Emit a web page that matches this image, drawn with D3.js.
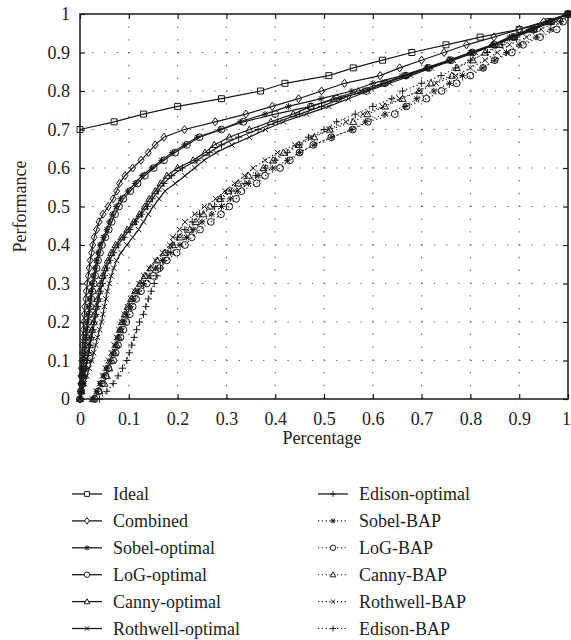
<!DOCTYPE html>
<html>
<head>
<meta charset="utf-8">
<script src="https://cdn.jsdelivr.net/npm/d3@7"></script>
<style>
  body { margin: 0; background: #fff; }
  text { font-family: "Liberation Serif", "DejaVu Serif", serif; fill: #222; }
</style>
</head>
<body>
<div id="vis"></div>
<script>
// performance levels at which every curve has a marker (0 .. 1 in steps of 0.02)
const levels = [0.00, 0.02, 0.04, 0.06, 0.08, 0.10, 0.12, 0.14, 0.16, 0.18,
                0.20, 0.22, 0.24, 0.26, 0.28, 0.30, 0.32, 0.34, 0.36, 0.38,
                0.40, 0.42, 0.44, 0.46, 0.48, 0.50, 0.52, 0.54, 0.56, 0.58,
                0.60, 0.62, 0.64, 0.66, 0.68, 0.70, 0.72, 0.74, 0.76, 0.78,
                0.80, 0.82, 0.84, 0.86, 0.88, 0.90, 0.92, 0.94, 0.96, 0.98, 1.00];
const idealLevels = [0.70, 0.72, 0.74, 0.76, 0.78, 0.80, 0.82, 0.84, 0.86, 0.88,
                     0.90, 0.92, 0.94, 0.96, 0.98, 1.00];

// percentage (x) for each level
const idealX = [0, 0.07, 0.13, 0.20, 0.29, 0.37, 0.42, 0.51, 0.56, 0.62, 0.68, 0.75, 0.82, 0.90, 0.96, 1.0];
const combinedX = [0, 0.001, 0.002, 0.002, 0.003, 0.004, 0.005, 0.005, 0.006, 0.007,
                   0.008, 0.009, 0.010, 0.012, 0.013, 0.015, 0.017, 0.019, 0.021, 0.024,
                   0.026, 0.029, 0.034, 0.039, 0.047, 0.058, 0.068, 0.075, 0.081, 0.092,
                   0.108, 0.125, 0.140, 0.154, 0.172, 0.214, 0.277, 0.340, 0.394, 0.448,
                   0.495, 0.542, 0.615, 0.655, 0.700, 0.746, 0.792, 0.848, 0.900, 0.950, 1.0];
const sobelOptX = [0, 0.002, 0.003, 0.004, 0.006, 0.007, 0.009, 0.010, 0.012, 0.013,
                   0.015, 0.017, 0.019, 0.021, 0.023, 0.025, 0.028, 0.031, 0.034, 0.037,
                   0.041, 0.048, 0.055, 0.060, 0.066, 0.074, 0.083, 0.098, 0.113, 0.127,
                   0.147, 0.167, 0.189, 0.214, 0.240, 0.287, 0.328, 0.379, 0.427, 0.494,
                   0.557, 0.600, 0.660, 0.710, 0.760, 0.800, 0.845, 0.880, 0.920, 0.960, 1.0];
const logOptX = [0, 0.002, 0.004, 0.005, 0.007, 0.008, 0.010, 0.011, 0.013, 0.015,
                 0.017, 0.019, 0.021, 0.023, 0.025, 0.028, 0.031, 0.034, 0.037, 0.041,
                 0.045, 0.052, 0.059, 0.065, 0.072, 0.080, 0.089, 0.103, 0.118, 0.133,
                 0.151, 0.172, 0.195, 0.219, 0.245, 0.290, 0.335, 0.400, 0.473, 0.526,
                 0.587, 0.625, 0.668, 0.715, 0.760, 0.805, 0.850, 0.890, 0.930, 0.965, 1.0];
const cannyOptX = [0, 0.003, 0.005, 0.008, 0.011, 0.014, 0.017, 0.019, 0.022, 0.025,
                   0.028, 0.030, 0.033, 0.036, 0.039, 0.042, 0.046, 0.051, 0.057, 0.064,
                   0.073, 0.085, 0.097, 0.110, 0.122, 0.133, 0.142, 0.154, 0.165, 0.178,
                   0.200, 0.232, 0.256, 0.275, 0.306, 0.347, 0.391, 0.437, 0.473, 0.520,
                   0.570, 0.620, 0.665, 0.710, 0.755, 0.800, 0.845, 0.885, 0.925, 0.962, 1.0];
const rothwellOptX = [0, 0.005, 0.009, 0.014, 0.019, 0.024, 0.028, 0.032, 0.036, 0.040,
                      0.044, 0.047, 0.050, 0.053, 0.056, 0.060, 0.064, 0.069, 0.075, 0.084,
                      0.096, 0.108, 0.120, 0.130, 0.140, 0.150, 0.162, 0.174, 0.195, 0.215,
                      0.235, 0.254, 0.279, 0.311, 0.347, 0.380, 0.417, 0.464, 0.510, 0.550,
                      0.590, 0.635, 0.678, 0.720, 0.765, 0.810, 0.850, 0.890, 0.930, 0.965, 1.0];
const edisonOptX = [0, 0.003, 0.006, 0.009, 0.012, 0.015, 0.018, 0.021, 0.024, 0.027,
                    0.030, 0.033, 0.036, 0.039, 0.042, 0.046, 0.050, 0.055, 0.061, 0.069,
                    0.078, 0.090, 0.102, 0.114, 0.126, 0.138, 0.148, 0.160, 0.172, 0.188,
                    0.210, 0.240, 0.265, 0.290, 0.325, 0.365, 0.405, 0.450, 0.495, 0.535,
                    0.580, 0.625, 0.668, 0.712, 0.758, 0.802, 0.846, 0.886, 0.926, 0.963, 1.0];
const sobelBapX = [0.028, 0.035, 0.042, 0.049, 0.055, 0.062, 0.068, 0.073, 0.078, 0.084,
                   0.090, 0.096, 0.103, 0.110, 0.119, 0.130, 0.142, 0.155, 0.169, 0.186,
                   0.205, 0.218, 0.232, 0.250, 0.270, 0.290, 0.308, 0.322, 0.345, 0.365,
                   0.395, 0.425, 0.450, 0.480, 0.516, 0.557, 0.585, 0.625, 0.666, 0.690,
                   0.725, 0.757, 0.784, 0.826, 0.850, 0.874, 0.900, 0.935, 0.965, 0.985, 1.0];
const logBapX = [0.030, 0.038, 0.045, 0.052, 0.058, 0.068, 0.073, 0.078, 0.083, 0.089,
                 0.095, 0.102, 0.108, 0.115, 0.125, 0.137, 0.150, 0.163, 0.178, 0.198,
                 0.215, 0.229, 0.246, 0.268, 0.289, 0.306, 0.320, 0.331, 0.362, 0.379,
                 0.410, 0.430, 0.450, 0.478, 0.515, 0.559, 0.590, 0.645, 0.669, 0.710,
                 0.741, 0.772, 0.800, 0.826, 0.850, 0.885, 0.908, 0.943, 0.977, 0.990, 1.0];
const cannyBapX = [0.027, 0.040, 0.050, 0.055, 0.060, 0.065, 0.070, 0.075, 0.079, 0.082,
                   0.086, 0.092, 0.098, 0.105, 0.113, 0.123, 0.133, 0.145, 0.158, 0.173,
                   0.190, 0.205, 0.225, 0.238, 0.253, 0.266, 0.287, 0.304, 0.324, 0.345,
                   0.376, 0.396, 0.417, 0.448, 0.480, 0.512, 0.560, 0.589, 0.625, 0.661,
                   0.695, 0.719, 0.762, 0.772, 0.805, 0.830, 0.860, 0.890, 0.930, 0.965, 1.0];
const rothwellBapX = [0.025, 0.033, 0.040, 0.046, 0.052, 0.058, 0.064, 0.070, 0.075, 0.080,
                      0.085, 0.091, 0.097, 0.104, 0.112, 0.121, 0.131, 0.142, 0.155, 0.169,
                      0.184, 0.190, 0.204, 0.215, 0.235, 0.255, 0.278, 0.297, 0.317, 0.337,
                      0.355, 0.379, 0.405, 0.440, 0.474, 0.510, 0.545, 0.580, 0.620, 0.655,
                      0.695, 0.730, 0.770, 0.800, 0.830, 0.855, 0.880, 0.915, 0.945, 0.975, 1.0];
const edisonBapX = [0.040, 0.055, 0.068, 0.078, 0.087, 0.096, 0.101, 0.106, 0.111, 0.116,
                    0.122, 0.130, 0.135, 0.140, 0.146, 0.152, 0.158, 0.165, 0.172, 0.180,
                    0.190, 0.200, 0.215, 0.230, 0.245, 0.276, 0.290, 0.310, 0.338, 0.360,
                    0.380, 0.400, 0.425, 0.450, 0.468, 0.500, 0.526, 0.564, 0.600, 0.639,
                    0.661, 0.700, 0.740, 0.770, 0.800, 0.835, 0.865, 0.895, 0.930, 0.965, 1.0];

const seriesNames = ["Ideal", "Combined", "Sobel-optimal", "LoG-optimal", "Canny-optimal",
                     "Rothwell-optimal", "Edison-optimal", "Sobel-BAP", "LoG-BAP",
                     "Canny-BAP", "Rothwell-BAP", "Edison-BAP"];
const seriesX = [idealX, combinedX, sobelOptX, logOptX, cannyOptX, rothwellOptX, edisonOptX,
                 sobelBapX, logBapX, cannyBapX, rothwellBapX, edisonBapX];
const seriesY = [idealLevels, levels, levels, levels, levels, levels, levels,
                 levels, levels, levels, levels, levels];

const tickValues = [0, 0.1, 0.2, 0.3, 0.4, 0.5, 0.6, 0.7, 0.8, 0.9, 1];

// drawing style per series (marker shape, dotted or solid)
const STYLE = [
    { marker: "square", dotted: false },
    { marker: "diamond", dotted: false },
    { marker: "star", dotted: false },
    { marker: "circle", dotted: false },
    { marker: "triangle", dotted: false },
    { marker: "x", dotted: false },
    { marker: "plus", dotted: false },
    { marker: "star", dotted: true },
    { marker: "circle", dotted: true },
    { marker: "triangle", dotted: true },
    { marker: "x", dotted: true },
    { marker: "plus", dotted: true }
];

const W = 571, H = 640;
const margin = { top: 14, left: 80 };
const width = 488, height = 385;
const ink = "#1a1a1a";

const svg = d3.select("#vis").append("svg")
    .attr("width", W)
    .attr("height", H);

const g = svg.append("g")
    .attr("transform", `translate(${margin.left},${margin.top})`);

const x = d3.scaleLinear().domain([0, 1]).range([0, width]);
const y = d3.scaleLinear().domain([0, 1]).range([height, 0]);

function markerPath(type, s) {
    switch (type) {
        case "square": return `M${-s},${-s}h${2 * s}v${2 * s}h${-2 * s}Z`;
        case "diamond": return `M0,${-s * 1.35}L${s},0L0,${s * 1.35}L${-s},0Z`;
        case "circle": return d3.symbol(d3.symbolCircle, Math.PI * s * s)();
        case "triangle": return `M0,${-s * 1.15}L${s * 1.15},${s * 0.85}L${-s * 1.15},${s * 0.85}Z`;
        case "x": return `M${-s},${-s}L${s},${s}M${-s},${s}L${s},${-s}`;
        case "plus": return `M${-s * 1.2},0H${s * 1.2}M0,${-s * 1.2}V${s * 1.2}`;
        case "star": {
            const d = s * 0.75;
            return `M${-s},0H${s}M0,${-s}V${s}M${-d},${-d}L${d},${d}M${-d},${d}L${d},${-d}`;
        }
    }
}
const markerSize = { square: 3, diamond: 3, circle: 3.4, triangle: 3.1, x: 2.7, plus: 3, star: 3.2 };

// dotted grid
g.append("g")
    .selectAll("line.gx")
    .data(tickValues.slice(1, -1))
    .join("line")
    .attr("x1", d => x(d)).attr("x2", d => x(d))
    .attr("y1", height).attr("y2", 0)
    .attr("stroke", "#6a6a6a")
    .attr("stroke-width", 1.2)
    .attr("stroke-dasharray", "1.4,11.4");

g.append("g")
    .selectAll("line.gy")
    .data(tickValues.slice(1, -1))
    .join("line")
    .attr("y1", d => y(d)).attr("y2", d => y(d))
    .attr("x1", 0).attr("x2", width)
    .attr("stroke", "#6a6a6a")
    .attr("stroke-width", 1.2)
    .attr("stroke-dasharray", "1.4,10.8");

const line = d3.line().x(d => x(d[0])).y(d => y(d[1]));

seriesNames.forEach((name, i) => {
    const pts = seriesX[i].map((v, j) => [v, seriesY[i][j]]);
    const st = STYLE[i];
    const sg = g.append("g").attr("class", "series");
    sg.append("path")
        .datum(pts)
        .attr("d", line)
        .attr("fill", "none")
        .attr("stroke", ink)
        .attr("stroke-width", st.dotted ? 1.2 : 1.2)
        .attr("stroke-dasharray", st.dotted ? "1.2,2.6" : null);
    sg.selectAll("path.mk")
        .data(pts)
        .join("path")
        .attr("class", "mk")
        .attr("transform", d => `translate(${x(d[0])},${y(d[1])})`)
        .attr("d", markerPath(st.marker, markerSize[st.marker]))
        .attr("fill", "none")
        .attr("stroke", ink)
        .attr("stroke-width", 1);
});

// frame and inward ticks on all sides
const fmt = d3.format("~g");
const axisStyle = sel => {
    sel.select(".domain").remove();
    sel.selectAll(".tick line").attr("stroke", ink).attr("stroke-width", 1.2);
    sel.selectAll("text").style("font-size", "18px").attr("fill", "#222");
};

g.append("g")
    .attr("transform", `translate(0,${height})`)
    .call(d3.axisBottom(x).tickValues(tickValues).tickFormat(fmt).tickSize(-5).tickPadding(13))
    .call(axisStyle)
    .selectAll(".tick text")
    .filter(d => d === 1)
    .attr("dx", "-2");
g.append("g")
    .call(d3.axisTop(x).tickValues(tickValues).tickFormat("").tickSize(-5))
    .call(axisStyle);
g.append("g")
    .call(d3.axisLeft(y).tickValues(tickValues).tickFormat(fmt).tickSize(-5).tickPadding(10))
    .call(axisStyle);
g.append("g")
    .attr("transform", `translate(${width},0)`)
    .call(d3.axisRight(y).tickValues(tickValues).tickFormat("").tickSize(-5))
    .call(axisStyle);

g.append("rect")
    .attr("width", width)
    .attr("height", height)
    .attr("fill", "none")
    .attr("stroke", ink)
    .attr("stroke-width", 1.5);

// axis titles
svg.append("text")
    .attr("x", 322)
    .attr("y", 444)
    .attr("text-anchor", "middle")
    .style("font-size", "18px")
    .text("Percentage");

svg.append("text")
    .attr("transform", `translate(26,${margin.top + height / 2}) rotate(-90)`)
    .attr("text-anchor", "middle")
    .style("font-size", "18px")
    .text("Performance");

// legend, two columns of six
const legend = svg.append("g");
seriesNames.forEach((name, i) => {
    const col = i < 6 ? 0 : 1;
    const row = i % 6;
    const lx = col === 0 ? 72 : 318;
    const by = 500 + row * 26.9;
    const ly = by - 6;
    const st = STYLE[i];
    legend.append("line")
        .attr("x1", lx).attr("x2", lx + 30)
        .attr("y1", ly).attr("y2", ly)
        .attr("stroke", ink)
        .attr("stroke-width", st.dotted ? 1.1 : 1.3)
        .attr("stroke-dasharray", st.dotted ? "1.2,2.6" : null);
    legend.append("path")
        .attr("transform", `translate(${lx + 15},${ly})`)
        .attr("d", markerPath(st.marker, markerSize[st.marker] * 0.8))
        .attr("fill", "#fff")
        .attr("stroke", ink)
        .attr("stroke-width", 1);
    legend.append("text")
        .attr("x", lx + 41)
        .attr("y", by)
        .style("font-size", "18px")
        .text(name);
});
</script>
</body>
</html>
